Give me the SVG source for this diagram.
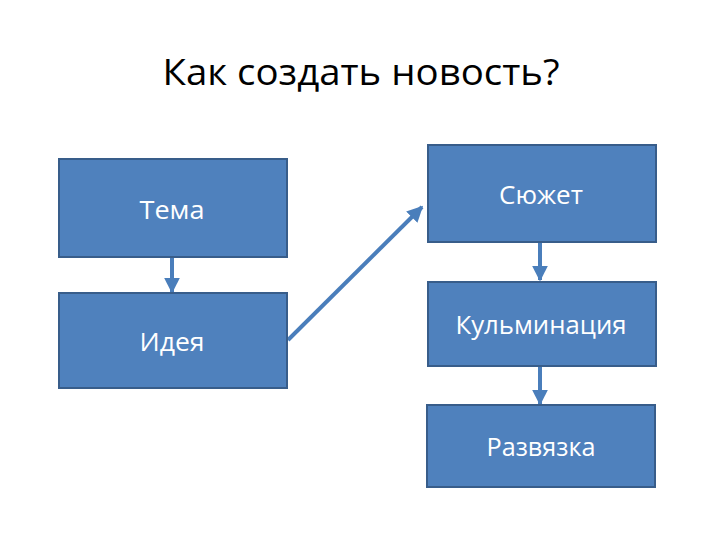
<svg xmlns="http://www.w3.org/2000/svg" width="720" height="540" viewBox="0 0 720 540">
<defs>
<style>
.box{fill:#4f81bd;stroke:#385d8a;stroke-width:2}
.lbl{font-family:"Open Sans","Noto Sans",sans-serif;font-size:25px;fill:#ffffff;text-anchor:middle}
.title{font-family:"Open Sans","Noto Sans",sans-serif;font-size:36px;fill:#000000;text-anchor:middle}
.conn{stroke:#4a7ebb;stroke-width:4;fill:none;marker-end:url(#ah)}
</style>
<marker id="ah" viewBox="0 0 10 10" refX="9" refY="5" markerWidth="4" markerHeight="4" orient="auto" markerUnits="strokeWidth">
<path d="M0,0 L10,5 L0,10 z" fill="#4a7ebb"/>
</marker>
</defs>
<rect width="720" height="540" fill="#ffffff"/>
<text class="title" x="361" y="85" textLength="397" lengthAdjust="spacingAndGlyphs">Как создать новость?</text>
<g id="connectors">
<line class="conn" x1="172" y1="257" x2="172" y2="292"/>
<line class="conn" x1="288" y1="340" x2="422" y2="207"/>
<line class="conn" x1="540" y1="242" x2="540" y2="280"/>
<line class="conn" x1="540" y1="366" x2="540" y2="404"/>
</g>
<g id="tema"><rect class="box" x="59" y="159" width="228" height="98"/><text class="lbl" x="172" y="219" textLength="65" lengthAdjust="spacingAndGlyphs">Тема</text></g>
<g id="ideya"><rect class="box" x="59" y="293" width="228" height="95"/><text class="lbl" x="172" y="351" textLength="65" lengthAdjust="spacingAndGlyphs">Идея</text></g>
<g id="syuzhet"><rect class="box" x="428" y="145" width="228" height="97"/><text class="lbl" x="541" y="204" textLength="84" lengthAdjust="spacingAndGlyphs">Сюжет</text></g>
<g id="kulm"><rect class="box" x="428" y="282" width="228" height="84"/><text class="lbl" x="541" y="334" textLength="171" lengthAdjust="spacingAndGlyphs">Кульминация</text></g>
<g id="razv"><rect class="box" x="427" y="405" width="228" height="82"/><text class="lbl" x="541" y="456" textLength="109" lengthAdjust="spacingAndGlyphs">Развязка</text></g>
</svg>
